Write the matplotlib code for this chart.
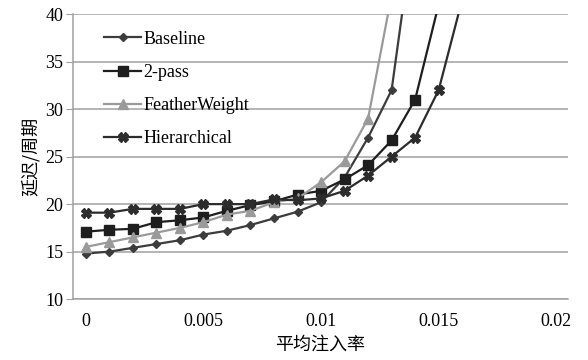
import numpy as np
import matplotlib
matplotlib.use('Agg')
import matplotlib.pyplot as plt

# injection rate sweep (flits/node/cycle)
rate = np.arange(0, 0.0165, 0.001)

baseline = [14.8, 15.0, 15.4, 15.8, 16.2, 16.8, 17.2, 17.8, 18.5, 19.2,
            20.2, 22.8, 27.0, 32.0, 50.0]
two_pass = [17.1, 17.3, 17.4, 18.1, 18.3, 18.6, 19.3, 19.9, 20.3, 21.0,
            21.4, 22.6, 24.1, 26.7, 31.0, 41.0]
feather = [15.5, 16.0, 16.5, 17.0, 17.5, 18.1, 18.9, 19.3, 20.2, 20.6,
           22.3, 24.5, 29.0, 42.0]
hier = [19.1, 19.1, 19.5, 19.5, 19.5, 20.0, 20.0, 20.0, 20.5, 20.4,
        20.6, 21.4, 23.0, 25.0, 27.0, 32.0, 41.5]

names = ['Baseline', '2-pass', 'FeatherWeight', 'Hierarchical']
xticks = [0, 0.005, 0.01, 0.015, 0.02]
xtick_labels = ['0', '0.005', '0.01', '0.015', '0.02']
yticks = [10, 15, 20, 25, 30, 35, 40]

serif = ['Liberation Serif', 'DejaVu Serif']
cjk = ['Noto Sans CJK SC', 'DejaVu Sans']

fig = plt.figure(figsize=(5.88, 3.6), dpi=100)
ax = fig.add_axes([0.124, 0.169, 0.842, 0.792])

styles = [
    dict(color='#3c3c3c', marker='D', markersize=4),
    dict(color='#1e1e1e', marker='s', markersize=6.5),
    dict(color='#9a9a9a', marker='^', markersize=6.5),
    dict(color='#2c2c2c', marker='X', markersize=7),
]
series = [baseline, two_pass, feather, hier]
for name, ys, st in zip(names, series, styles):
    ax.plot(rate[:len(ys)], ys, label=name, linewidth=1.6, **st)

ax.set_xlim(-0.00055, 0.0205)
ax.set_ylim(10, 40)
ax.set_xticks(xticks)
ax.set_xticklabels(xtick_labels)
ax.set_yticks(yticks)

ax.grid(axis='y', color='#a0a0a0', linewidth=1.1)
ax.set_axisbelow(True)
for s in ['top', 'right']:
    ax.spines[s].set_visible(False)
for s in ['left', 'bottom']:
    ax.spines[s].set_color('#a0a0a0')
    ax.spines[s].set_linewidth(1.1)
ax.tick_params(axis='y', direction='out', length=5, color='#a0a0a0', pad=2)
ax.tick_params(axis='x', length=0, pad=10)
for lab in ax.get_xticklabels() + ax.get_yticklabels():
    lab.set_family(serif)
    lab.set_fontsize(13)

ax.set_xlabel('平均注入率', family=cjk, fontsize=13, labelpad=4)
ax.set_ylabel('延迟/周期', family=cjk, fontsize=13, labelpad=4)

leg = ax.legend(loc='upper left', bbox_to_anchor=(0.04, 0.98), frameon=False,
                prop={'family': serif, 'size': 13}, labelspacing=0.9,
                handlelength=2.1, handletextpad=0.1, borderaxespad=0.2)

fig.savefig('out.png', dpi=100, facecolor='white')
